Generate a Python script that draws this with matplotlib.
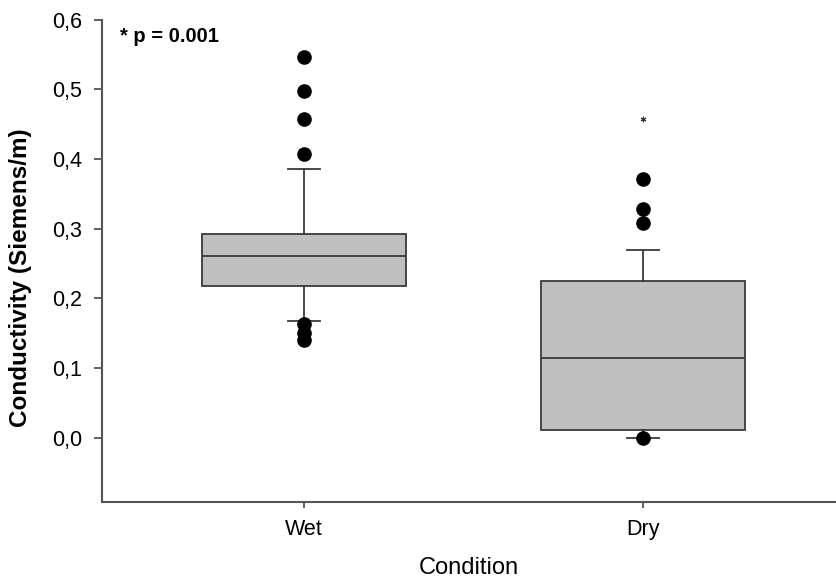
import matplotlib

matplotlib.use("Agg")
import matplotlib.pyplot as plt

plt.rcParams["font.family"] = ["Liberation Sans", "DejaVu Sans"]

conditions = ["Wet", "Dry"]
q1 = [0.218, 0.0115]
median = [0.261, 0.114]
q3 = [0.292, 0.225]
whisker_low = [0.167, 0.0]
whisker_high = [0.386, 0.269]
outliers = [
    [0.547, 0.498, 0.457, 0.407, 0.163, 0.151, 0.141],
    [0.372, 0.329, 0.308, 0.0],
]
extreme_dry = [0.457]
p_text = "* p = 0.001"

EDGE = "#3a3a3a"
AXIS = "#555555"

stats = []
for i, name in enumerate(conditions):
    stats.append(
        {
            "label": name,
            "q1": q1[i],
            "med": median[i],
            "q3": q3[i],
            "whislo": whisker_low[i],
            "whishi": whisker_high[i],
            "fliers": outliers[i],
        }
    )

fig = plt.figure(figsize=(8.36, 5.78), dpi=100)
ax = fig.add_axes([0.122, 0.1315, 0.878, 0.8345])

ax.bxp(
    stats,
    positions=[1, 2],
    widths=0.6,
    patch_artist=True,
    boxprops=dict(facecolor="#c0c0c0", edgecolor=EDGE, linewidth=1.3),
    medianprops=dict(color=EDGE, linewidth=1.3),
    whiskerprops=dict(color=EDGE, linewidth=1.3),
    capprops=dict(color=EDGE, linewidth=1.3),
    capwidths=0.095,
    flierprops=dict(marker="o", markerfacecolor="black", markeredgecolor="black", markersize=9.5),
)
ax.plot([2] * len(extreme_dry), extreme_dry, linestyle="none", marker=(6, 2, 0),
        color="#333333", markersize=4, markeredgewidth=0.8)

ax.set_xlim(0.404, 2.57)
ax.set_ylim(-0.092, 0.6)
ax.set_yticks([0.0, 0.1, 0.2, 0.3, 0.4, 0.5, 0.6])
ax.set_yticklabels(["0,0", "0,1", "0,2", "0,3", "0,4", "0,5", "0,6"])
ax.set_xticks([1, 2])
ax.set_xticklabels(conditions)

for side in ["top", "right"]:
    ax.spines[side].set_visible(False)
for side in ["left", "bottom"]:
    ax.spines[side].set_color(AXIS)
    ax.spines[side].set_linewidth(1.5)

ax.tick_params(axis="y", direction="out", length=6, width=1.3, color=AXIS, labelsize=15.5, pad=8.5)
ax.tick_params(axis="x", direction="out", length=4, width=1.3, color=AXIS, labelsize=15.5, pad=8)

ax.set_ylabel("Conductivity (Siemens/m)", fontsize=17.5, fontweight="bold")
ax.yaxis.set_label_coords(-0.0954, 0.465)
ax.set_xlabel("Condition", fontsize=17, labelpad=12.5)

ax.text(0.025, 0.965, p_text, transform=ax.transAxes, fontsize=14.5, fontweight="bold",
        ha="left", va="center")

fig.savefig("out.png", dpi=100)
